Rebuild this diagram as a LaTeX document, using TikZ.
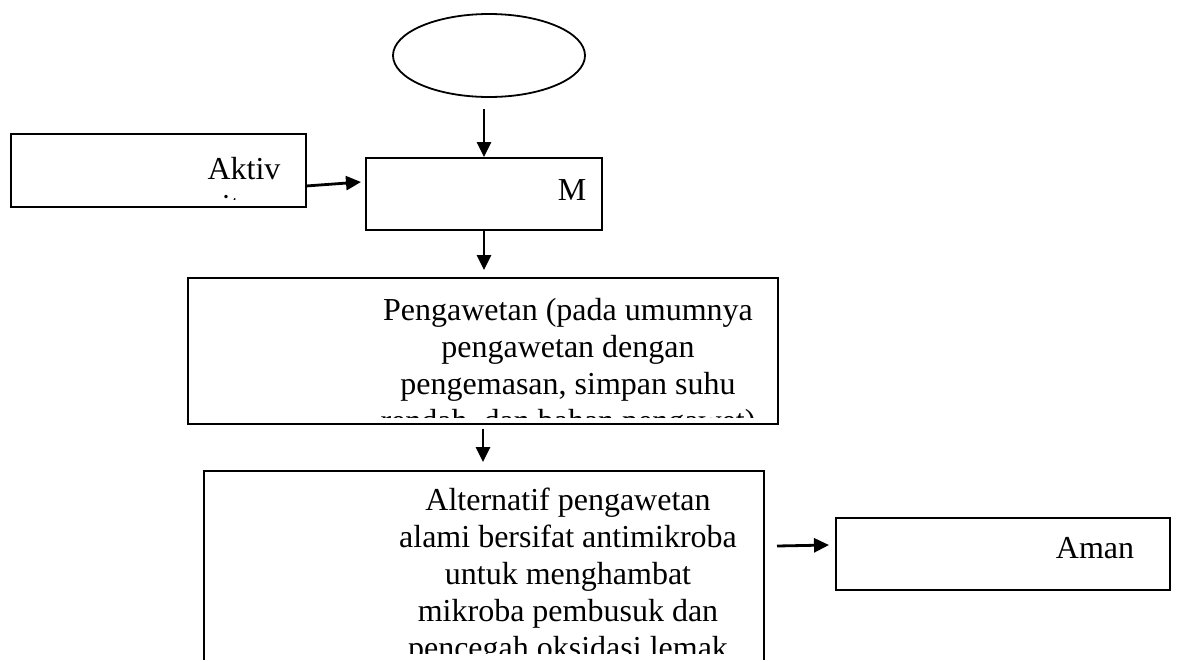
\documentclass[tikz,border=0pt]{standalone}
\usepackage{fontspec}
\setmainfont{Liberation Serif}
\usetikzlibrary{arrows.meta,calc,shapes.geometric}
\begin{document}
\begin{tikzpicture}[x=1pt,y=-1pt,
  box/.style={draw,line width=2pt,rectangle,inner sep=0pt},
  txt/.style={font=\fontsize{32}{37}\selectfont,anchor=base,inner sep=0pt},
  arr/.style={line width=2.8pt,-{Triangle[length=15pt,width=14pt]}}]
\useasboundingbox (0,0) rectangle (1181,659);
\clip (0,0) rectangle (1181,659);
\fill[white] (0,0) rectangle (1181,659);
% boxes
\node[draw,ellipse,line width=1.8pt,minimum width=192pt,minimum height=83pt,inner sep=0pt] (start) at (489,55.5) {};
\node[box,minimum width=295pt,minimum height=73pt] (aktiv) at (158.5,170.5) {};
\node[box,minimum width=236pt,minimum height=72pt] (m) at (484,194) {};
\node[box,minimum width=590pt,minimum height=146pt] (peng) at (483,351) {};
\node[box,minimum width=560pt,minimum height=240pt] (alt) at (484,591) {};
\node[box,minimum width=334pt,minimum height=72pt] (aman) at (1003,554) {};
% texts
\begin{scope}
\clip (13,136) rectangle (304,199);
\node[txt] (aktivA) at (244,179) {Aktiv};
\node[txt] (aktivB) at (244,216) {itas};
\end{scope}
\node[txt] (mT) at (572,200.5) {M};
\begin{scope}
\clip (190,280) rectangle (776,417);
\node[txt] (pengA) at (568,320) {Pengawetan (pada umumnya};
\node[txt] (pengB) at (568,357) {pengawetan dengan};
\node[txt] (pengC) at (568,394) {pengemasan, simpan suhu};
\node[txt] (pengD) at (568,431) {rendah, dan bahan pengawet)};
\end{scope}
\begin{scope}
\clip (206,473) rectangle (762,653);
\node[txt] (altA) at (568,510) {Alternatif pengawetan};
\node[txt] (altB) at (568,547) {alami bersifat antimikroba};
\node[txt] (altC) at (568,584) {untuk menghambat};
\node[txt] (altD) at (568,621) {mikroba pembusuk dan};
\node[txt] (altE) at (568,658) {pencegah oksidasi lemak};
\end{scope}
\node[txt] (amanT) at (1095,558) {Aman};
% connectors
\coordinate (a1s) at (484,109);
\coordinate (a2e) at (484,270);
\coordinate (a3e) at (483,462);
\coordinate (a4s) at (306,186);
\coordinate (a4e) at (361,182);
\coordinate (a5s) at (777,546);
\coordinate (a5e) at (829,545);
\draw[arr] (a1s) -- (m.north);
\draw[arr] (m.south) -- (a2e);
\draw[arr] ($(peng.south)+(0,4)$) -- (a3e);
\draw[arr] (a4s) -- (a4e);
\draw[arr] (a5s) -- (a5e);
\end{tikzpicture}
\end{document}
